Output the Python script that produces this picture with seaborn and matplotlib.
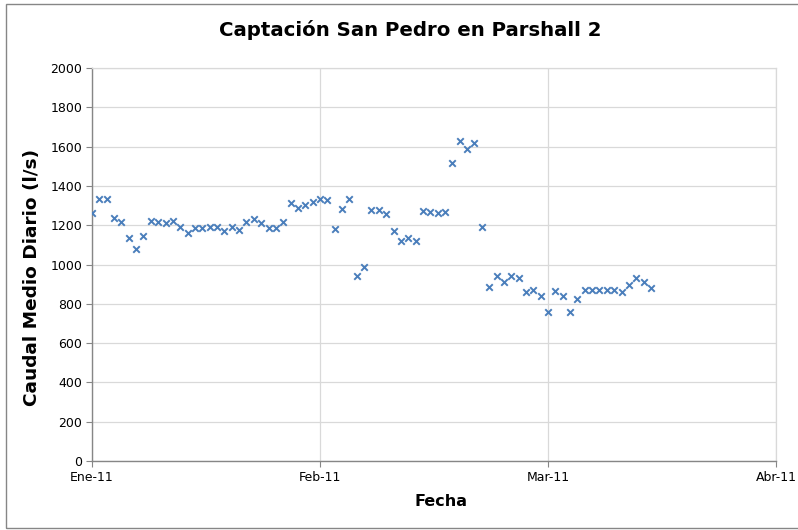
import matplotlib.pyplot as plt
import matplotlib.patches as mpatches
import seaborn as sns
import pandas as pd

# daily flow values (l/s), starting 1 Jan 2011
dia = list(range(77))
caudal = [
    1262, 1333, 1333, 1235, 1218, 1133, 1081, 1143, 1221, 1215,
    1210, 1221, 1190, 1160, 1185, 1185, 1193, 1193, 1170, 1193,
    1176, 1215, 1230, 1213, 1188, 1188, 1215, 1311, 1289, 1303,
    1316, 1333, 1328, 1180, 1282, 1335, 943, 989, 1275, 1278,
    1257, 1168, 1120, 1137, 1118, 1272, 1269, 1261, 1269, 1515,
    1630, 1586, 1620, 1190, 888, 944, 910, 942, 930, 860,
    868, 841, 758, 867, 841, 760, 825, 870, 870, 870,
    870, 870, 862, 895, 929, 912, 878,
]
tick_pos = [0, 31, 62, 93]
tick_labels = ["Ene-11", "Feb-11", "Mar-11", "Abr-11"]

df = pd.DataFrame({"dia": dia, "caudal": caudal})

sns.set_theme(style="whitegrid")
plt.rcParams["font.family"] = ["DejaVu Sans"]
plt.rcParams["text.color"] = "black"
plt.rcParams["axes.labelcolor"] = "black"

fig = plt.figure(figsize=(7.98, 5.3), dpi=100)
ax = fig.add_axes([92 / 798, 1 - 461 / 530, (776 - 92) / 798, (461 - 68) / 530])

sns.scatterplot(data=df, x="dia", y="caudal", ax=ax, marker="x",
                color="#4a7ebb", s=22, linewidth=1.4, zorder=3)

ax.set_xlim(0, 93)
ax.set_ylim(0, 2000)
ax.set_xticks(tick_pos)
ax.set_xticklabels(tick_labels)
ax.set_yticks(range(0, 2001, 200))
ax.tick_params(axis="both", labelsize=9, labelcolor="black", direction="out",
               length=4, width=0.8, left=True, bottom=True, pad=3)
ax.tick_params(axis="both", color="#868686")
ax.grid(True, color="#d9d9d9", linewidth=0.9)
for side in ["left", "bottom"]:
    ax.spines[side].set_color("#868686")
    ax.spines[side].set_linewidth(1.0)
for side in ["top", "right"]:
    ax.spines[side].set_color("#d9d9d9")
    ax.spines[side].set_linewidth(0.9)

ax.set_xlabel("Fecha", fontsize=11.5, fontweight="bold")
ax.set_ylabel("Caudal Medio Diario (l/s)", fontsize=13.3, fontweight="bold")
ax.xaxis.set_label_coords(0.510, -0.084)
ax.yaxis.set_label_coords(-0.075, 0.468)

fig.text(410 / 798, 1 - 30 / 530, "Captación San Pedro en Parshall 2",
         ha="center", va="center", fontsize=14.2, fontweight="bold")

# chart area border
fig.patches.append(mpatches.Rectangle((6 / 798, 2 / 530), 1.0, 1 - 6 / 530,
                                      transform=fig.transFigure, fill=False,
                                      edgecolor="#868686", linewidth=1.0))

fig.savefig("out.png", dpi=100)
